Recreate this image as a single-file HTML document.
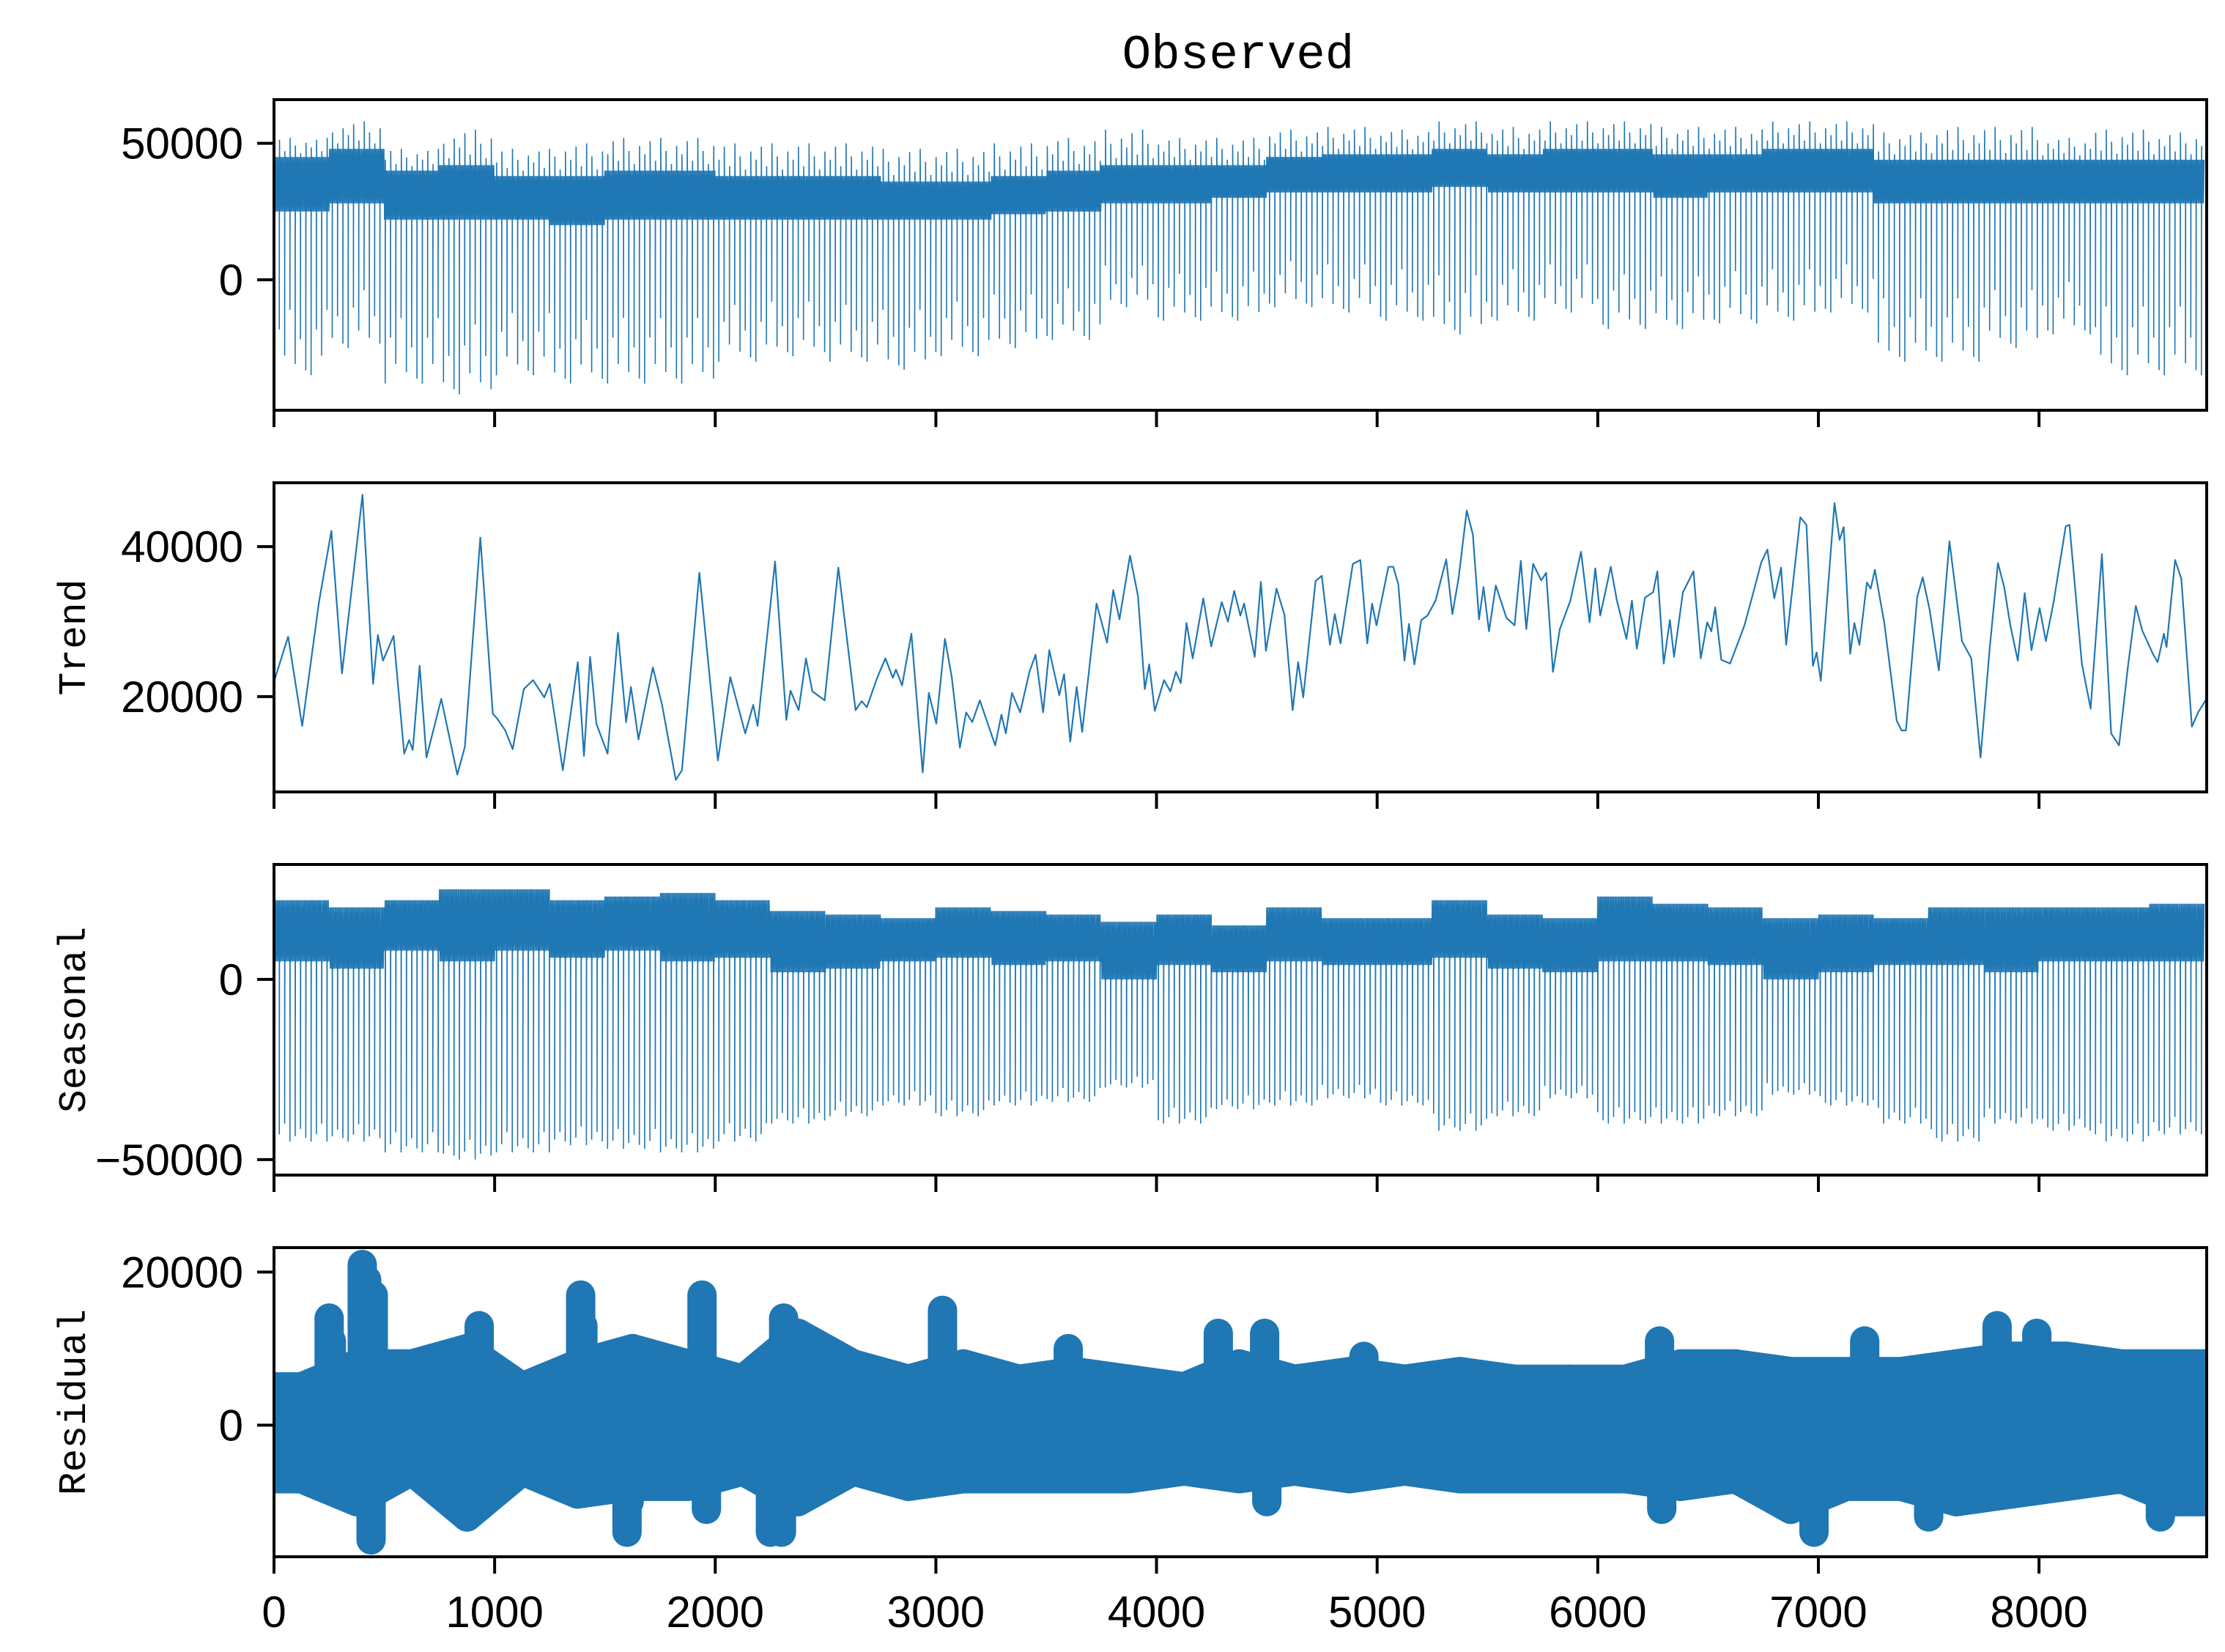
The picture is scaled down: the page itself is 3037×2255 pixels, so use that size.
<!DOCTYPE html>
<html><head><meta charset="utf-8"><style>
html,body{margin:0;padding:0;background:#fff;}
svg{display:block;}
text{font-family:"Liberation Sans","Noto Sans CJK SC",sans-serif;fill:#000;}
.mono{font-family:"Liberation Mono","Noto Sans CJK SC",monospace;}
</style></head><body>
<svg id="chart" width="3037" height="2255" viewBox="0 0 3037 2255" xmlns="http://www.w3.org/2000/svg">
<rect x="0" y="0" width="3037" height="2255" fill="#fff"/>
<text class="mono" x="1690" y="93" font-size="66" text-anchor="middle">Observed</text>
<g id="layer"></g>
</svg>
<script>
// ---- data ----
const xTicks = [0,1000,2000,3000,4000,5000,6000,7000,8000];
const xTickLabels = ["0","1000","2000","3000","4000","5000","6000","7000","8000"];
const binSize = 250;
const totalHours = 8760;

const obsMax  = [52000,58000,48000,55000,48000,50000,52000,52000,50000,50000,50000,48000,48000,50000,52000,55000,52000,52000,55000,56000,55000,58000,56000,58000,58000,56000,56000,58000,58000,54000,56000,56000,52000,55000,54000];
const obsCoreHi=[45000,48000,40000,42000,38000,38000,40000,40000,38000,38000,38000,36000,36000,38000,40000,42000,42000,42000,45000,46000,46000,48000,46000,48000,48000,46000,46000,48000,48000,44000,44000,44000,44000,44000,44000];
const obsCoreLo=[25000,28000,22000,22000,22000,20000,22000,22000,22000,22000,22000,22000,22000,24000,25000,28000,28000,30000,32000,32000,32000,34000,32000,32000,32000,30000,32000,32000,32000,28000,28000,28000,28000,28000,28000];
const obsMin  = [-35000,-25000,-38000,-42000,-35000,-38000,-38000,-38000,-30000,-28000,-30000,-33000,-28000,-25000,-22000,-10000,-15000,-15000,-10000,-12000,-15000,-20000,-15000,-12000,-18000,-18000,-16000,-15000,-12000,-30000,-30000,-25000,-20000,-35000,-35000];

const trendT = [0,64,128,204,260,308,401,449,471,494,542,590,612,629,660,691,758,831,865,935,992,1011,1048,1082,1132,1174,1225,1250,1309,1377,1405,1433,1461,1512,1559,1596,1618,1652,1717,1759,1821,1849,1928,2012,2068,2136,2172,2192,2271,2322,2341,2378,2411,2440,2496,2558,2636,2664,2687,2734,2771,2805,2819,2847,2889,2940,2968,3002,3041,3072,3109,3137,3165,3199,3269,3297,3317,3345,3382,3424,3452,3486,3514,3559,3581,3609,3638,3663,3728,3776,3804,3832,3880,3916,3947,3967,3992,4034,4063,4088,4110,4136,4164,4212,4248,4296,4324,4352,4380,4397,4445,4473,4496,4544,4580,4617,4642,4665,4721,4749,4786,4808,4834,4890,4924,4955,4977,4997,5051,5073,5096,5124,5144,5169,5200,5228,5265,5313,5341,5369,5406,5434,5462,5482,5507,5538,5586,5623,5651,5676,5707,5744,5766,5797,5828,5876,5924,5963,5989,6011,6059,6087,6130,6155,6177,6214,6251,6270,6299,6327,6346,6386,6434,6467,6496,6515,6532,6560,6600,6665,6707,6741,6769,6800,6831,6854,6918,6946,6975,6992,7011,7073,7096,7115,7144,7163,7186,7220,7237,7256,7299,7355,7377,7397,7448,7473,7504,7546,7594,7651,7693,7735,7777,7814,7842,7870,7904,7935,7966,8003,8031,8065,8121,8138,8194,8234,8285,8327,8363,8403,8439,8468,8518,8538,8566,8578,8617,8645,8693,8721,8759];
const trendV = [22000,28000,16100,32600,42100,23100,46900,21700,28200,24800,28100,12400,14200,12900,24100,11900,19700,9600,13300,41200,17700,17100,15500,13000,21000,22200,19900,21700,10200,24600,12100,25300,16400,12400,28500,16600,21300,14300,23900,18900,8900,10200,36500,11500,22600,15100,18900,16100,38000,16900,20800,18200,25100,20700,19500,37200,18200,19400,18600,22500,25100,22500,23600,21500,28400,9900,20500,16400,27700,22600,13200,17900,16600,19500,13500,17600,15100,20500,17900,23300,25600,17900,26200,20200,23000,14000,21300,15300,32400,27200,34200,30300,38800,33400,21000,24300,18100,22200,20700,23300,21800,29800,25100,33100,26700,32600,30000,34100,30800,32400,25300,35300,26100,34400,30900,18200,24600,19900,35400,36100,26900,31000,27100,37700,38200,27100,32400,29500,37300,37300,35000,24800,29700,24300,30200,30800,32800,38300,31000,35700,44800,41600,30300,34600,28700,34800,30500,29500,38100,29000,37700,35500,36500,23300,29000,32800,39300,29900,37100,30800,37300,32800,27700,32800,26400,33200,33900,36700,24400,30200,25300,33900,36700,25100,29900,28700,31900,24900,24400,29500,34100,37900,39600,33100,37200,26900,43900,42900,24100,25900,22100,45800,40900,42600,25700,29800,26900,35200,34400,36900,29800,16800,15500,15500,33300,35900,31600,23500,40700,27400,25100,11900,26600,37800,34600,29500,24800,33800,26200,31800,27400,32400,42700,42900,24400,18400,39000,15100,13500,24000,32100,28800,25600,24600,28400,26600,38200,35700,16000,17900,19700];

const seasHi    = [22000,20000,22000,25000,25000,22000,23000,24000,22000,19000,18000,17000,20000,19000,18000,16000,18000,15000,20000,17000,17000,22000,18000,17000,23000,21000,20000,17000,18000,17000,20000,20000,20000,20000,21000];
const seasCoreLo= [5000,3000,8000,5000,8000,6000,8000,5000,6000,2000,3000,5000,6000,4000,5000,0,4000,2000,5000,4000,4000,6000,3000,2000,5000,5000,4000,0,2000,4000,4000,2000,5000,5000,5000];
const seasMin   = [-45000,-45000,-48000,-50000,-48000,-46000,-47000,-48000,-45000,-40000,-38000,-35000,-38000,-35000,-34000,-30000,-40000,-36000,-35000,-33000,-35000,-42000,-38000,-33000,-40000,-40000,-38000,-32000,-35000,-40000,-45000,-40000,-42000,-45000,-43000];

const residHi = [5000,8000,8000,10000,5000,8000,10000,8000,6000,12000,8000,6000,8000,6000,7000,6000,5000,8000,6000,7000,6000,7000,6000,6000,6000,8000,8000,7000,7000,7000,8000,9000,9000,8000,8000];
const residLo = [-7000,-10000,-6000,-12000,-6000,-9000,-8000,-8000,-6000,-10000,-6000,-8000,-7000,-7000,-7000,-7000,-6000,-7000,-6000,-7000,-6000,-7000,-7000,-7000,-7000,-8000,-7000,-11000,-8000,-8000,-10000,-9000,-8000,-7000,-10000];
const outlierT = [250,260,400,420,450,440,930,1390,1400,1600,1610,1940,1960,2250,2300,2310,3030,3600,4280,4490,4500,4940,6280,6290,6980,7210,7500,7810,7990,8550];
const outlierV = [14000,11000,21000,19000,17000,-15000,13000,17000,13000,-14000,-10000,17000,-11000,-14000,-14000,14000,15000,10000,12000,12000,-10000,9000,11000,-11000,-14000,11000,-12000,13000,12000,-12000];

// ---- layout ----
const X0 = 374, X1 = 3012;
const panels = [
 {name:'observed', top:136, bottom:560, ymin:-47800, ymax:66000, ticks:[0,50000], label:null},
 {name:'trend', top:659, bottom:1081, ymin:7300, ymax:48500, ticks:[20000,40000], label:'Trend'},
 {name:'seasonal', top:1180, bottom:1604, ymin:-54300, ymax:31900, ticks:[-50000,0], label:'Seasonal'},
 {name:'residual', top:1703, bottom:2125, ymin:-17200, ymax:23200, ticks:[0,20000], label:'Residual'}
];
const BLUE = '#1f77b4';
const NS = 'http://www.w3.org/2000/svg';
const layer = document.getElementById('layer');
function xs(t){ return X0 + t/totalHours*(X1-X0); }
function ysFor(p){ return v => p.bottom - (v-p.ymin)/(p.ymax-p.ymin)*(p.bottom-p.top); }
function mk(tag, attrs, parent){ const e=document.createElementNS(NS,tag); for(const k in attrs) e.setAttribute(k,attrs[k]); (parent||layer).appendChild(e); return e; }
const fmt = v => (v<0?'\u2212':'') + Math.abs(v);
const dayPattern = [1,0.72,0.88,0.6,0.93,0.78,0.97];
const upPattern = [0.5,0.9,0.3,1,0.6,0.2,0.75];
const seasPattern = [1,0.96,0.9,1,0.97,0.93,0.98];

panels.forEach((p, pi) => {
  const y = ysFor(p);
  const g = mk('g', {});
  
  
  const clipId = 'clip'+pi;
  const cp = mk('clipPath', {id:clipId}, g);
  mk('rect', {x:X0, y:p.top, width:X1-X0, height:p.bottom-p.top}, cp);
  const plot = mk('g', {'clip-path':'url(#'+clipId+')'}, g);
  
  

  if (p.name === 'observed') {
    let d = '', up = true, day = 0;
    for (let i=0;i<obsMax.length;i++){
      const s=i*binSize, e=Math.min((i+1)*binSize,totalHours);
      for (let h=s; h<e; h++){
        if (h % 3 === 0){
          d += (d?'L':'M') + xs(h).toFixed(1) + ' ' + y(up?obsCoreHi[i]:obsCoreLo[i]).toFixed(1);
          up = !up;
        }
        if (h % 24 === 0){
          const f = dayPattern[day%7], gU = upPattern[day%7];
          d += 'L' + xs(h).toFixed(1) + ' ' + y(obsCoreLo[i] + f*(obsMin[i]-obsCoreLo[i])).toFixed(1);
          d += 'L' + xs(h+1).toFixed(1) + ' ' + y(obsCoreHi[i] + gU*(obsMax[i]-obsCoreHi[i])).toFixed(1);
          day++;
        }
      }
    }
    const pth = mk('path', {d:d, fill:'none', stroke:BLUE, 'stroke-width':1.6, 'stroke-linejoin':'miter'}, plot);
    
    
  } else if (p.name === 'trend') {
    let d='';
    for (let i=0;i<trendT.length;i++) d += (i?'L':'M') + xs(trendT[i]).toFixed(1) + ' ' + y(trendV[i]).toFixed(1);
    const pth = mk('path', {d:d, fill:'none', stroke:BLUE, 'stroke-width':2.2, 'stroke-linejoin':'round'}, plot);
    
    
  } else if (p.name === 'seasonal') {
    let d='', up=true, day=0;
    for (let i=0;i<seasHi.length;i++){
      const s=i*binSize, e=Math.min((i+1)*binSize,totalHours);
      for (let h=s; h<e; h++){
        if (h % 3 === 0){
          d += (d?'L':'M') + xs(h).toFixed(1) + ' ' + y(up?seasHi[i]:seasCoreLo[i]).toFixed(1);
          up = !up;
        }
        if (h % 24 === 0){
          const f = seasPattern[day%7];
          d += 'L' + xs(h).toFixed(1) + ' ' + y(seasCoreLo[i] + f*(seasMin[i]-seasCoreLo[i])).toFixed(1);
          d += 'L' + xs(h+1).toFixed(1) + ' ' + y(seasCoreLo[i]).toFixed(1);
          day++;
        }
      }
    }
    const pth = mk('path', {d:d, fill:'none', stroke:BLUE, 'stroke-width':1.6}, plot);
    
    
  } else {
    const R = 20;
    let d='';
    const n = residHi.length;
    const cx = i => xs(Math.min(i*binSize+binSize/2, totalHours));
    d += 'M' + xs(0) + ' ' + y(residHi[0]);
    for (let i=0;i<n;i++) d += 'L' + cx(i).toFixed(1) + ' ' + y(residHi[i]).toFixed(1);
    d += 'L' + xs(totalHours) + ' ' + y(residHi[n-1]).toFixed(1);
    d += 'L' + xs(totalHours) + ' ' + y(residLo[n-1]).toFixed(1);
    for (let i=n-1;i>=0;i--) d += 'L' + cx(i).toFixed(1) + ' ' + y(residLo[i]).toFixed(1);
    d += 'L' + xs(0) + ' ' + y(residLo[0]) + 'Z';
    const band = mk('path', {d:d, fill:BLUE, stroke:BLUE, 'stroke-width':2*R, 'stroke-linejoin':'round'}, plot);
    
    
    for (let i=0;i<n;i++){
      const c1 = mk('circle', {cx:cx(i), cy:y(residHi[i]), r:R, fill:BLUE}, plot);
      
      
      const c2 = mk('circle', {cx:cx(i), cy:y(residLo[i]), r:R, fill:BLUE}, plot);
      
      
    }
    for (let i=0;i<outlierT.length;i++){
      const c = mk('circle', {cx:xs(outlierT[i]), cy:y(outlierV[i]), r:R, fill:BLUE}, plot);
      
      
      const base = outlierV[i] > 0 ? 3000 : -3000;
      const ln = mk('line', {x1:xs(outlierT[i]), x2:xs(outlierT[i]), y1:y(base), y2:y(outlierV[i]), stroke:BLUE, 'stroke-width':2*R}, plot);
      
      
    }
  }

  const fr = mk('rect', {x:X0, y:p.top, width:X1-X0, height:p.bottom-p.top, fill:'none', stroke:'#000', 'stroke-width':4}, g);
  
  
  p.ticks.forEach(v => {
    const tk = mk('line', {x1:X0-23, x2:X0, y1:y(v), y2:y(v), stroke:'#000', 'stroke-width':4}, g);
    
    
    const tl = mk('text', {x:X0-42, y:y(v)+21, 'font-size':60, 'text-anchor':'end'}, g);
    tl.textContent = fmt(v);
    
    
  });
  xTicks.forEach((t, k) => {
    const tk = mk('line', {x1:xs(t), x2:xs(t), y1:p.bottom, y2:p.bottom+23, stroke:'#000', 'stroke-width':4}, g);
    
    
    if (pi === panels.length-1){
      const tl = mk('text', {x:xs(t), y:p.bottom+96, 'font-size':60, 'text-anchor':'middle'}, g);
      tl.textContent = xTickLabels[k];
      
      
    }
  });
  if (p.label){
    const cy = (p.top+p.bottom)/2;
    const lb = mk('text', {x:0, y:0, 'font-size':53, 'text-anchor':'middle', class:'mono', transform:'translate(116,'+cy+') rotate(-90)'}, g);
    lb.textContent = p.label;
    
    
  }
});
</script>
</body></html>
